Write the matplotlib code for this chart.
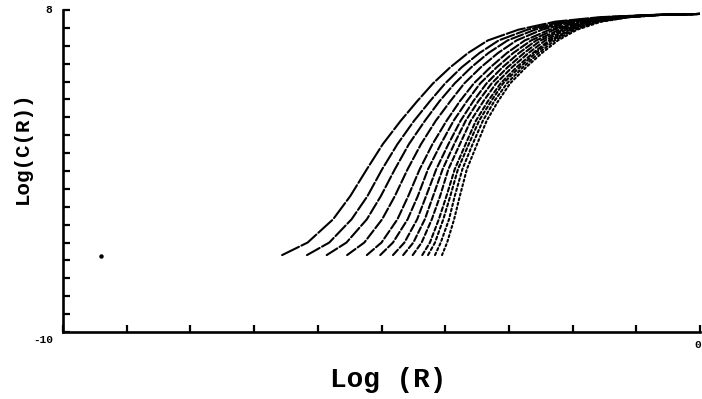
import matplotlib
matplotlib.use("Agg")
from matplotlib import pyplot as plt

# Log(C(R)) levels shared by every curve
log_c_levels = [-5.7, -5.0, -3.7, -2.4, -0.9, 0.5, 1.8, 2.9, 3.9, 4.8, 5.6, 6.3, 6.9, 7.35, 7.6, 7.72, 7.78]

# Log(R) where each curve reaches the levels above (leftmost curve first)
log_r_curves = [
    [-6.56, -6.16, -5.76, -5.49, -5.23, -4.98, -4.70, -4.44, -4.19, -3.92, -3.64, -3.33, -2.85, -2.27, -1.57, -0.79, 0.00],
    [-6.17, -5.82, -5.47, -5.22, -4.99, -4.75, -4.49, -4.24, -4.00, -3.74, -3.46, -3.16, -2.71, -2.16, -1.50, -0.77, 0.00],
    [-5.86, -5.55, -5.23, -5.01, -4.79, -4.57, -4.32, -4.09, -3.85, -3.59, -3.32, -3.02, -2.59, -2.07, -1.44, -0.75, 0.00],
    [-5.54, -5.27, -4.99, -4.79, -4.59, -4.38, -4.15, -3.92, -3.70, -3.44, -3.17, -2.88, -2.48, -1.98, -1.38, -0.73, 0.00],
    [-5.23, -5.00, -4.75, -4.58, -4.40, -4.20, -3.98, -3.77, -3.55, -3.29, -3.03, -2.75, -2.36, -1.89, -1.32, -0.71, 0.00],
    [-5.02, -4.82, -4.59, -4.43, -4.27, -4.07, -3.87, -3.66, -3.45, -3.19, -2.93, -2.65, -2.29, -1.83, -1.28, -0.69, 0.00],
    [-4.82, -4.64, -4.44, -4.30, -4.14, -3.95, -3.76, -3.56, -3.35, -3.10, -2.84, -2.57, -2.21, -1.77, -1.24, -0.68, 0.00],
    [-4.66, -4.50, -4.32, -4.19, -4.04, -3.86, -3.68, -3.48, -3.27, -3.02, -2.76, -2.50, -2.15, -1.72, -1.21, -0.67, 0.00],
    [-4.51, -4.37, -4.21, -4.08, -3.95, -3.77, -3.60, -3.40, -3.20, -2.95, -2.69, -2.43, -2.10, -1.68, -1.19, -0.66, 0.00],
    [-4.36, -4.24, -4.10, -3.98, -3.85, -3.68, -3.52, -3.33, -3.13, -2.88, -2.62, -2.37, -2.04, -1.64, -1.16, -0.65, 0.00],
    [-4.27, -4.16, -4.03, -3.92, -3.80, -3.63, -3.47, -3.28, -3.09, -2.83, -2.58, -2.33, -2.01, -1.61, -1.14, -0.64, 0.00],
    [-4.16, -4.07, -3.94, -3.85, -3.73, -3.57, -3.41, -3.23, -3.03, -2.78, -2.53, -2.28, -1.97, -1.58, -1.12, -0.64, 0.00],
    [-4.05, -3.97, -3.86, -3.77, -3.66, -3.50, -3.35, -3.17, -2.98, -2.73, -2.48, -2.23, -1.93, -1.55, -1.10, -0.63, 0.00],
]

# lone point far left
stray_x = [-9.40]
stray_y = [-5.74]

# dash pattern per curve, long dashes turning into dots
dash_patterns = [(9, 1.3), (7, 1.3), (6, 1.3), (5, 1.3), (4.5, 1.3), (4, 1.3), (3.5, 1.3),
                 (3, 1.3), (2.5, 1.3), (2, 1.3), (1.5, 1.3), (1.2, 1.3), (1, 1.3)]

mono = "Liberation Mono"

fig = plt.figure(figsize=(7.02, 3.99), dpi=100)
ax = fig.add_axes([63 / 702, 1 - 332 / 399, 637 / 702, 322 / 399])

for xs, dash in zip(log_r_curves, dash_patterns):
    ax.plot(xs, log_c_levels, color="black", linewidth=1.5, dashes=dash,
            solid_capstyle="round", dash_capstyle="round", solid_joinstyle="round")

ax.plot(stray_x, stray_y, "o", color="black", markersize=2.2)

ax.set_xlim(-10, 0)
ax.set_ylim(-10, 8)

for side in ["top", "right"]:
    ax.spines[side].set_visible(False)
for side in ["left", "bottom"]:
    ax.spines[side].set_linewidth(1.9)

ax.set_xticks(range(-10, 1))
ax.set_yticks(range(-10, 9))
ax.set_xticklabels([])
ax.set_yticklabels([])
ax.tick_params(direction="in", length=5, width=1.6)

# end labels of both axes
ax.annotate("-10", (-10, -10), xytext=(-14, -6), textcoords="offset points",
            ha="center", va="center", fontsize=8, fontweight="bold", family=mono)
ax.annotate("8", (-10, 8), xytext=(-10, 0), textcoords="offset points",
            ha="center", va="center", fontsize=8, fontweight="bold", family=mono)
ax.annotate("0", (0, -10), xytext=(-2, -9), textcoords="offset points",
            ha="center", va="center", fontsize=8, fontweight="bold", family=mono)

fig.text(388 / 702, 1 - 380 / 399, "Log (R)", ha="center", va="center",
         fontsize=20, fontweight="bold", family=mono)
fig.text(22 / 702, 1 - 148 / 399, "Log(C(R))", ha="center", va="center", rotation=90,
         fontsize=15, fontweight="bold", family=mono)

fig.savefig("out.png", dpi=100)
